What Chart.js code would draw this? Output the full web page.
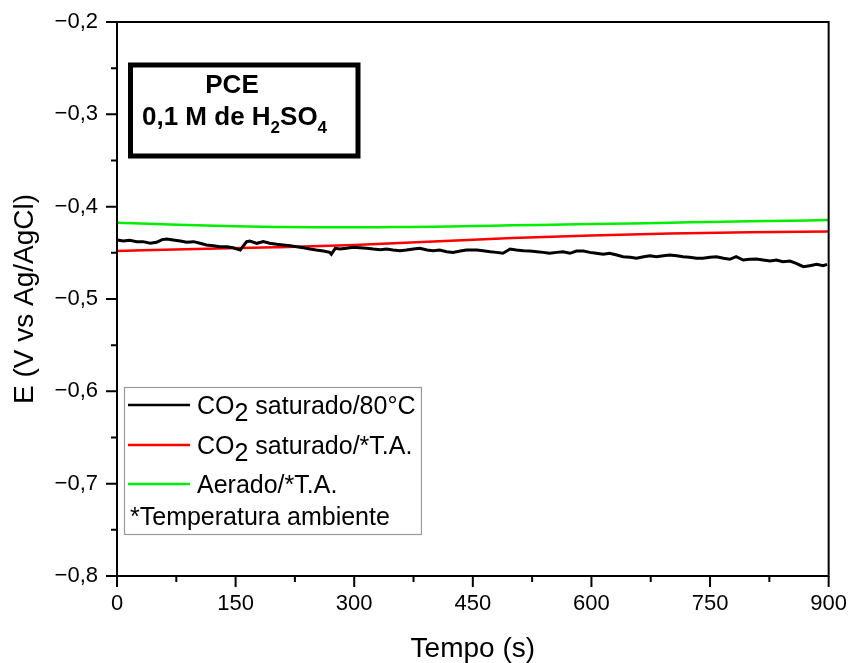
<!DOCTYPE html>
<html>
<head>
<meta charset="utf-8">
<script src="https://cdn.jsdelivr.net/npm/chart.js@4.4.1/dist/chart.umd.min.js"></script>
<style>
  html, body { margin: 0; padding: 0; background: #fff; }
  #wrap { width: 851px; height: 663px; }
</style>
</head>
<body>
<div id="wrap"><canvas id="chart"></canvas></div>
<script>
// axis limits
const xMin = 0, xMax = 900, xStep = 150;
const yMin = -0.8, yMax = -0.2, yStep = 0.1;

// CO2 saturado / 80 °C (noisy trace)
const blackT = [0, 8, 16, 25, 33, 42, 50, 57, 63, 71, 80, 88, 97, 105, 113, 122, 130, 139, 147, 156,
  160, 164, 168, 177, 185, 193, 202, 210, 219, 227, 236, 244, 252, 261, 269, 271, 276, 282, 290, 299,
  307, 316, 324, 333, 341, 349, 358, 366, 375, 383, 392, 400, 408, 417, 425, 434, 442, 450, 455, 463,
  472, 480, 488, 493, 497, 505, 514, 522, 531, 539, 547, 556, 564, 573, 581, 590, 598, 606, 615, 623,
  632, 640, 649, 657, 666, 674, 682, 691, 699, 708, 716, 724, 733, 741, 750, 758, 767, 775, 783, 792,
  800, 809, 817, 826, 834, 842, 851, 859, 868, 876, 885, 893, 898];
const blackE = [-0.4361, -0.4372, -0.4365, -0.4379, -0.4379, -0.4397, -0.4386, -0.4357, -0.4350, -0.4361,
  -0.4372, -0.4386, -0.4379, -0.4397, -0.4415, -0.4423, -0.4434, -0.4434, -0.4445, -0.4470,
  -0.4423, -0.4379, -0.4372, -0.4397, -0.4379, -0.4397, -0.4408, -0.4415, -0.4423, -0.4434,
  -0.4445, -0.4459, -0.4470, -0.4480, -0.4495, -0.4516, -0.4451, -0.4459, -0.4451, -0.4440,
  -0.4445, -0.4451, -0.4459, -0.4466, -0.4459, -0.4470, -0.4477, -0.4470, -0.4459, -0.4451,
  -0.4470, -0.4477, -0.4470, -0.4488, -0.4495, -0.4480, -0.4470, -0.4468, -0.4470, -0.4477,
  -0.4488, -0.4495, -0.4505, -0.4480, -0.4459, -0.4470, -0.4477, -0.4480, -0.4488, -0.4495,
  -0.4505, -0.4495, -0.4488, -0.4505, -0.4480, -0.4480, -0.4495, -0.4505, -0.4516, -0.4505,
  -0.4523, -0.4542, -0.4548, -0.4559, -0.4542, -0.4531, -0.4542, -0.4531, -0.4523, -0.4531,
  -0.4542, -0.4548, -0.4559, -0.4559, -0.4548, -0.4542, -0.4559, -0.4570, -0.4542, -0.4578,
  -0.4570, -0.4567, -0.4578, -0.4589, -0.4578, -0.4596, -0.4589, -0.4614, -0.4650, -0.4639,
  -0.4625, -0.4639, -0.4625];

// CO2 saturado / T.A.
const redT = [0, 100, 200, 300, 400, 500, 600, 700, 800, 900];
const redE = [-0.4480, -0.4459, -0.4440, -0.4415, -0.4377, -0.4340, -0.4312, -0.4290, -0.4277, -0.4269];

// Aerado / T.A.
const greenT = [0, 50, 100, 150, 200, 250, 300, 350, 400, 450, 500, 550, 600, 650, 700, 750, 800, 850, 900];
const greenE = [-0.4174, -0.4188, -0.4202, -0.4213, -0.4220, -0.4224, -0.4224, -0.4220, -0.4217, -0.4210,
  -0.4202, -0.4195, -0.4188, -0.4181, -0.4174, -0.4166, -0.4159, -0.4152, -0.4145];

// legend entries: [main text, subscript, rest]
const legendRows = [
  ["CO", "2", " saturado/80°C"],
  ["CO", "2", " saturado/*T.A."],
  ["Aerado/*T.A.", "", ""]
];
const legendNote = "*Temperatura ambiente";
const colors = ["#000000", "#ff0000", "#00ee00"];

const xTitle = "Tempo (s)";
const yTitle = "E (V vs Ag/AgCl)";

const FONT = '"Liberation Sans", Arial, sans-serif';

const pts = (t, e) => t.map((v, i) => ({ x: v, y: e[i] }));

function fmtY(v) {
  return Number(v).toFixed(1).replace(".", ",").replace("-", "\u2212");
}

const decor = {
  id: "decor",
  afterDraw(chart) {
    const { ctx, chartArea: a, scales: { x, y } } = chart;
    ctx.save();
    ctx.strokeStyle = "#000";
    ctx.lineWidth = 2;
    ctx.strokeRect(a.left, a.top, a.right - a.left, a.bottom - a.top);

    // major + minor ticks, outside
    ctx.beginPath();
    for (let i = 0; i <= (xMax - xMin) / (xStep / 2); i++) {
      const px = x.getPixelForValue(xMin + i * xStep / 2);
      ctx.moveTo(px, a.bottom);
      ctx.lineTo(px, a.bottom + (i % 2 === 0 ? 11 : 6));
    }
    const ny = Math.round((yMax - yMin) / (yStep / 2));
    for (let i = 0; i <= ny; i++) {
      const py = y.getPixelForValue(yMin + i * yStep / 2);
      ctx.moveTo(a.left, py);
      ctx.lineTo(a.left - (i % 2 === 0 ? 11 : 6), py);
    }
    ctx.stroke();

    // axis titles
    ctx.fillStyle = "#000";
    ctx.font = "28px " + FONT;
    ctx.textAlign = "center";
    ctx.textBaseline = "middle";
    ctx.fillText(xTitle, (a.left + a.right) / 2, 649);
    ctx.save();
    ctx.translate(25, (a.top + a.bottom) / 2);
    ctx.rotate(-Math.PI / 2);
    ctx.fillText(yTitle, 0, 0);
    ctx.restore();

    // annotation box
    ctx.lineWidth = 5;
    ctx.strokeRect(130.5, 65, 227.5, 91);
    ctx.textBaseline = "alphabetic";
    ctx.font = "bold 26px " + FONT;
    ctx.fillText("PCE", 232, 93);
    ctx.textAlign = "left";
    let cx = 142;
    const seg = [["0,1 M de H", 0], ["2", 1], ["SO", 0], ["4", 1]];
    seg.forEach(([s, sub]) => {
      ctx.font = (sub ? "bold 17px " : "bold 26px ") + FONT;
      ctx.fillText(s, cx, sub ? 133 : 125);
      cx += ctx.measureText(s).width;
    });

    // legend
    ctx.font = "25px " + FONT;
    const base = [414, 454, 493];
    let maxW = 0;
    legendRows.forEach((r, i) => {
      let tx = 197;
      ctx.fillStyle = "#000";
      ctx.fillText(r[0], tx, base[i]);
      tx += ctx.measureText(r[0]).width;
      if (r[1]) {
        ctx.fillText(r[1], tx, base[i] + 7);
        tx += ctx.measureText(r[1]).width;
      }
      ctx.fillText(r[2], tx, base[i]);
      tx += ctx.measureText(r[2]).width;
      maxW = Math.max(maxW, tx);
      ctx.strokeStyle = colors[i];
      ctx.lineWidth = 2.5;
      ctx.beginPath();
      ctx.moveTo(128, base[i] - 9);
      ctx.lineTo(190, base[i] - 9);
      ctx.stroke();
    });
    ctx.fillText(legendNote, 130, 525);
    maxW = Math.max(maxW, 130 + ctx.measureText(legendNote).width);
    ctx.strokeStyle = "#999";
    ctx.lineWidth = 1.2;
    ctx.strokeRect(124.5, 387.5, maxW + 6 - 124.5, 147);
    ctx.restore();
  }
};

new Chart(document.getElementById("chart"), {
  type: "line",
  data: {
    datasets: [
      { data: pts(blackT, blackE), borderColor: colors[0], borderWidth: 3, pointRadius: 0, tension: 0 },
      { data: pts(redT, redE), borderColor: colors[1], borderWidth: 2.5, pointRadius: 0, cubicInterpolationMode: "monotone" },
      { data: pts(greenT, greenE), borderColor: colors[2], borderWidth: 2.5, pointRadius: 0, cubicInterpolationMode: "monotone" }
    ]
  },
  options: {
    responsive: true,
    maintainAspectRatio: false,
    animation: false,
    events: [],
    layout: { padding: { left: 0, top: 22, right: 22, bottom: 0 } },
    plugins: { legend: { display: false }, tooltip: { enabled: false } },
    scales: {
      x: {
        type: "linear", min: xMin, max: xMax,
        grid: { display: false, tickLength: 11 },
        border: { display: false },
        ticks: { stepSize: xStep, padding: 4, color: "#000", font: { family: FONT, size: 22 } },
        afterFit(s) { s.height = 87; }
      },
      y: {
        min: yMin, max: yMax,
        grid: { display: false, tickLength: 11 },
        border: { display: false },
        ticks: { stepSize: yStep, padding: 8, color: "#000", font: { family: FONT, size: 22 }, callback: v => fmtY(v) },
        afterFit(s) { s.width = 117; }
      }
    }
  },
  plugins: [decor]
});
</script>
</body>
</html>
